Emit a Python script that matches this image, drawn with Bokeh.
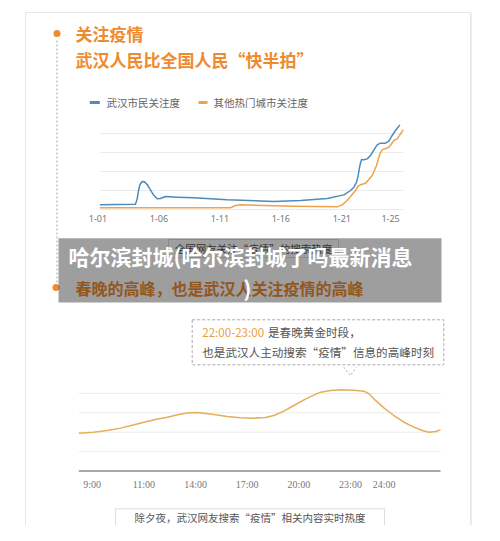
from bokeh.plotting import figure
from bokeh.models import Range1d
from bokeh.embed import file_html
from bokeh.resources import INLINE
from bokeh.core.properties import value

# ---------------- data: chart 1 (January attention, day of month) ----------------
days_wuhan = [1.16, 4.08, 4.22, 4.33, 4.44, 4.63, 4.82, 5.04, 5.26, 5.53, 5.86, 6.13,
              6.54, 7.50, 8.86, 11.60, 15.42, 17.61, 19.80, 21.17, 21.71, 21.99,
              22.21, 22.34, 22.48, 22.62, 22.81, 23.08, 23.35, 23.63, 23.90, 24.17,
              24.58, 24.86, 25.13, 25.40, 25.76]
heat_wuhan = [4.9, 5.6, 11.2, 20.0, 26.0, 29.5, 29.1, 26.3, 21.8, 15.8, 11.2, 11.6,
              13.7, 13.0, 12.3, 10.2, 8.4, 9.5, 11.6, 15.4, 20.0, 23.5,
              28.8, 35.8, 46.3, 52.6, 52.3, 53.3, 56.8, 62.8, 68.1, 69.8,
              69.8, 71.9, 77.9, 83.2, 89.1]
days_other = [1.16, 11.87, 12.28, 12.69, 17.06, 20.62, 21.03, 21.44, 21.85, 22.12,
              22.34, 22.53, 22.95, 23.49, 23.85, 24.12, 24.31, 24.86, 25.27, 25.54, 26.03]
heat_other = [1.8, 1.8, 4.2, 4.9, 3.5, 2.8, 4.9, 9.5, 15.8, 20.0,
              24.6, 26.0, 27.7, 35.8, 46.3, 58.6, 62.8, 65.6, 72.6, 74.4, 83.9]
c1_ticks = [1, 6, 11, 16, 21, 25]
c1_labels = ["1-01", "1-06", "1-11", "1-16", "1-21", "1-25"]
c1_grid = [0, 20, 40, 60, 80]
c1_series = ["武汉市民关注度", "其他热门城市关注度"]

# ---------------- data: chart 2 (New Year's Eve, axis slot of time labels) ----------------
eve_pos = [-0.259, 0.032, 0.290, 0.548, 0.774, 1.000, 1.226, 1.452, 1.677, 1.871,
           2.032, 2.161, 2.387, 2.613, 2.871, 3.129, 3.355, 3.517, 3.710, 3.904,
           4.162, 4.420, 4.614, 4.808, 5.065, 5.259, 5.356, 5.453, 5.646, 5.840,
           6.034, 6.227, 6.389, 6.517, 6.647, 6.743]
eve_heat = [39.0, 40.0, 41.8, 44.2, 47.2, 50.3, 53.1, 55.5, 58.2, 60.0,
            60.3, 59.6, 57.9, 56.2, 54.8, 54.5, 55.2, 57.2, 61.7, 67.5,
            75.1, 81.3, 83.0, 83.7, 83.3, 82.3, 79.6, 74.4, 65.1, 57.2,
            50.3, 45.2, 41.8, 40.0, 40.7, 42.4]
c2_ticks = [0, 1, 2, 3, 4, 5, 5.65]
c2_labels = ["9:00", "11:00", "14:00", "17:00", "20:00", "23:00", "24:00"]
c2_grid = [20, 40, 60, 80]

CJK = value("Noto Sans CJK SC")
ORANGE = "#ee8b2f"
BLUE = "#4b8bbe"
LORANGE = "#f0a14a"
GOLD = "#e6ad5a"
GRAY = "#666666"

p = figure(width=484, height=525, x_range=Range1d(0, 484), y_range=Range1d(525, 0),
           output_backend="svg", toolbar_location=None, x_axis_type=None, y_axis_type=None,
           min_border=0, outline_line_color=None)
p.background_fill_color = "white"
p.border_fill_color = "white"

# card
p.quad(left=26, right=471.5, top=13, bottom=540.5, fill_color="#eeeeee", line_color=None)
p.quad(left=25, right=470, top=12, bottom=539, fill_color="white", line_color="#e6e6e6")

# timeline dots + dotted line
p.segment(x0=56.5, y0=40, x1=56.5, y1=283, line_color="#a8a8a8", line_dash="2 2", line_width=1)
p.scatter(x=[56.5, 55.5], y=[33, 287], size=7, color=ORANGE, line_color=None)

def txt(x, y, s, size, color, bold=False, align="left", font=CJK):
    p.text(x=[x], y=[y], text=[s], text_font=font, text_font_size=size,
           text_font_style="bold" if bold else "normal", text_color=color,
           text_align=align, text_baseline="middle")

# section 1 header
txt(75, 33, "关注疫情", "17px", ORANGE, bold=True)
txt(75, 59, "武汉人民比全国人民“快半拍”", "17px", ORANGE, bold=True)

# legend
p.segment(x0=89.3, y0=102, x1=99.3, y1=102, line_width=3, line_color=BLUE)
txt(106, 102, c1_series[0], "10.5px", GRAY)
p.segment(x0=198, y0=102, x1=207, y1=102, line_width=3, line_color=LORANGE)
txt(213, 102, c1_series[1], "10.5px", GRAY)

# chart 1
s1 = p.subplot(x_source=Range1d(1, 25), y_source=Range1d(0, 100),
               x_target=Range1d(97.4, 390.1), y_target=Range1d(209, 114))
xmin1 = min(days_wuhan + days_other)
xmax1 = max(days_wuhan + days_other)
s1.segment(x0=[xmin1] * len(c1_grid), x1=[xmax1] * len(c1_grid), y0=c1_grid, y1=c1_grid,
           line_color="#ebebeb", line_width=1)
s1.line(days_other, heat_other, line_color=LORANGE, line_width=1.5, line_join="round")
s1.line(days_wuhan, heat_wuhan, line_color=BLUE, line_width=1.5, line_join="round")
s1.text(x=c1_ticks, y=[0] * len(c1_ticks), text=c1_labels, y_offset=9,
        text_font=value("Noto Sans"), text_font_size="9px", text_color="#777777",
        text_align="center", text_baseline="middle")

# chart 1 caption (under banner)
p.quad(left=168, right=338, top=239, bottom=257, fill_color="white", line_color="#dddddd")
txt(253, 248, "全国网友关注“疫情”的搜索热度", "10.5px", "#555555", align="center")

# section 2 header
txt(75, 287, "春晚的高峰，也是武汉人关注疫情的高峰", "16px", ORANGE, bold=True)

# callout
p.quad(left=191.7, right=443.3, top=319.3, bottom=364.3, fill_color=None,
       line_color="#aaaaaa", line_dash="3 2", line_width=1)
p.line([343.3, 350, 355.7], [366.7, 375, 366.7], line_color="#aaaaaa", line_dash="2 2")
txt(201.7, 331.7, "22:00-23:00", "11.6px", "#e8a03c")
txt(267.5, 331.7, "是春晚黄金时段，", "11.6px", "#555555")
txt(201.7, 351.7, "也是武汉人主动搜索“疫情”信息的高峰时刻", "11.6px", "#555555")

# chart 2
s2 = p.subplot(x_source=Range1d(0, 5), y_source=Range1d(0, 100),
               x_target=Range1d(91.7, 350), y_target=Range1d(470.5, 373.5))
xmin2, xmax2 = min(eve_pos), max(eve_pos)
s2.segment(x0=[xmin2] * len(c2_grid), x1=[xmax2] * len(c2_grid), y0=c2_grid, y1=c2_grid,
           line_color="#ececec", line_width=1)
s2.segment(x0=[xmin2], x1=[xmax2], y0=[0], y1=[0], line_color="#8a8a8a", line_width=1.5)
s2.line(eve_pos, eve_heat, line_color=GOLD, line_width=1.5, line_join="round")
s2.text(x=c2_ticks, y=[0] * len(c2_ticks), text=c2_labels, y_offset=13,
        text_font=value("Liberation Serif"), text_font_size="10px", text_color="#777777",
        text_align="center", text_baseline="middle")

# chart 2 caption
p.quad(left=115, right=384, top=508.3, bottom=525.7, fill_color="white", line_color="#dddddd")
txt(249.5, 517, "除夕夜，武汉网友搜索“疫情”相关内容实时热度", "10.5px", "#555555", align="center")

# overlay banner
p.quad(left=58, right=441, top=237.7, bottom=302, fill_color="black", fill_alpha=0.38,
       line_color=None)
txt(68, 255, "哈尔滨封城(哈尔滨封城了吗最新消息", "21px", "white", bold=True)
txt(243, 287, ")", "21px", "white", bold=True)

open("out.html", "w").write(file_html(p, INLINE))
